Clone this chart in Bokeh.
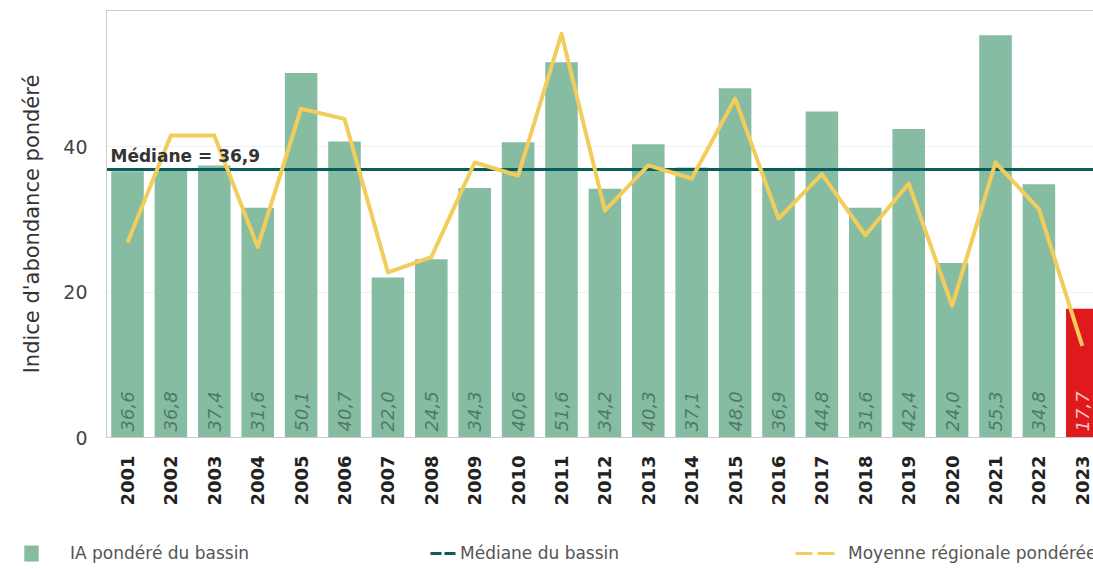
import math
from bokeh.plotting import figure
from bokeh.layouts import column
from bokeh.models import (ColumnDataSource, Range1d, FixedTicker, Label, Legend,
                          LegendItem, LinearAxis)
from bokeh.core.properties import value
from bokeh.embed import file_html
from bokeh.resources import INLINE

# ---- data ----
years = list(range(2001, 2024))
year_labels = [str(y) for y in years]
ia_bassin = [36.6, 36.8, 37.4, 31.6, 50.1, 40.7, 22.0, 24.5, 34.3, 40.6, 51.6, 34.2,
             40.3, 37.1, 48.0, 36.9, 44.8, 31.6, 42.4, 24.0, 55.3, 34.8, 17.7]
moyenne_regionale = [26.8, 41.5, 41.5, 26.2, 45.2, 43.8, 22.7, 24.8, 37.8, 36.0, 55.5, 31.2,
                     37.4, 35.6, 46.6, 30.1, 36.2, 27.8, 34.9, 18.1, 37.8, 31.4, 12.6]
mediane_bassin = 36.9
y_ticks = [0, 20, 40]
legend_labels = ["IA pondéré du bassin", "Médiane du bassin", "Moyenne régionale pondérée"]
y_title = "Indice d'abondance pondéré"

# ---- styles ----
GREEN = "#86bca2"
RED = "#e0191d"
TEAL = "#0a5c5c"
YELLOW = "#f2cd5c"
FONT = "DejaVu Sans"
FRAME_LEFT = 106

bar_colors = [GREEN] * (len(years) - 1) + [RED]
lbl_colors = ["#4f7a66"] * (len(years) - 1) + ["#f6c9c9"]
fmt = lambda v: f"{v:.1f}".replace(".", ",")

src = ColumnDataSource(dict(year=years, val=ia_bassin, color=bar_colors,
                            lbl=[fmt(v) for v in ia_bassin], lcolor=lbl_colors,
                            zero=[0] * len(years)))

p = figure(width=1093, height=530,
           x_range=Range1d(2000.516, 2023.258), y_range=Range1d(0, 58.7),
           output_backend="svg", toolbar_location=None,
           min_border_left=FRAME_LEFT, min_border_right=0, min_border_top=10, min_border_bottom=93)
p.outline_line_color = None
p.background_fill_color = "white"
p.border_fill_color = "white"
p.frame_align = False

bars = p.vbar(x="year", top="val", width=0.75, fill_color="color", line_color=None, source=src)
p.text(x="year", y="zero", text="lbl", angle=math.pi / 2, text_align="left",
       text_baseline="middle", y_offset=-6, text_font=value(FONT),
       text_font_style="italic", text_font_size="18px", text_color="lcolor", source=src)

p.hspan(y=[mediane_bassin], line_color=TEAL, line_width=3)
p.line(x=years, y=moyenne_regionale, line_color=YELLOW, line_width=4, line_join="round")

p.add_layout(Label(x=p.x_range.start, y=mediane_bassin, x_offset=4, y_offset=3,
                   text=f"Médiane = {fmt(mediane_bassin)}", text_font=FONT,
                   text_font_style="bold", text_font_size="17px", text_color="#333333",
                   text_baseline="bottom"))

# axes
xa = p.xaxis[0]
xa.ticker = FixedTicker(ticks=years)
xa.major_label_overrides = {y: l for y, l in zip(years, year_labels)}
xa.major_label_orientation = math.pi / 2
xa.major_label_text_font = FONT
xa.major_label_text_font_style = "bold"
xa.major_label_text_font_size = "18px"
xa.major_label_text_color = "#222222"
xa.major_label_standoff = 12
xa.major_tick_line_color = None
xa.minor_tick_line_color = None
xa.axis_line_color = "#cccccc"

ya = p.yaxis[0]
ya.ticker = FixedTicker(ticks=y_ticks)
ya.major_label_text_font = FONT
ya.major_label_text_font_size = "19px"
ya.major_label_text_color = "#444444"
ya.major_label_standoff = 13
ya.major_tick_line_color = None
ya.minor_tick_line_color = None
ya.axis_line_color = "#cccccc"
ya.axis_label = y_title
ya.axis_label_text_font = FONT
ya.axis_label_text_font_style = "normal"
ya.axis_label_text_font_size = "21px"
ya.axis_label_text_color = "#333333"
ya.axis_label_standoff = 16

top = LinearAxis(ticker=FixedTicker(ticks=[]), axis_line_color="#cccccc",
                 major_tick_line_color=None, minor_tick_line_color=None,
                 major_label_standoff=0)
p.add_layout(top, "above")

p.xgrid.grid_line_color = None
p.ygrid.ticker = FixedTicker(ticks=y_ticks)
p.ygrid.grid_line_color = "#f0f0f0"

# ---- legend strip (separate figure, frame not aligned with the chart) ----
lg = figure(width=1093, height=39, x_range=Range1d(0, 1), y_range=Range1d(0, 1),
            output_backend="svg", toolbar_location=None,
            min_border_left=0, min_border_right=0, min_border_top=0, min_border_bottom=0)
lg.axis.visible = False
lg.grid.visible = False
lg.outline_line_color = None
lg.frame_align = False

# legend-only renderers, placed outside the visible range
bar_dummy = lg.vbar(x=[-5], top=[-5], width=0.5, fill_color=GREEN, line_color=None)
med_dummy = lg.line(x=[-5, -4], y=[-5, -5], line_color=TEAL, line_width=3, line_dash="11 3")
moy_dummy = lg.line(x=[-5, -4], y=[-5, -5], line_color=YELLOW, line_width=3, line_dash="17 5")

def add_leg(item, page_x, gw, gh, standoff):
    leg = Legend(items=[item], location=(page_x, 6), orientation="horizontal",
                 padding=0, margin=0, spacing=0, glyph_width=gw, glyph_height=gh,
                 label_standoff=standoff, label_text_font=FONT, label_text_font_size="17px",
                 label_text_color="#555555", background_fill_alpha=0, border_line_alpha=0)
    lg.add_layout(leg, "center")

add_leg(LegendItem(label=legend_labels[0], renderers=[bar_dummy]), 22, 18, 20, 30)
add_leg(LegendItem(label=legend_labels[1], renderers=[med_dummy]), 430, 26, 20, 4)
add_leg(LegendItem(label=legend_labels[2], renderers=[moy_dummy]), 795, 40, 20, 13)

layout = column(p, lg, spacing=0)
open("out.html", "w").write(file_html(layout, INLINE))
